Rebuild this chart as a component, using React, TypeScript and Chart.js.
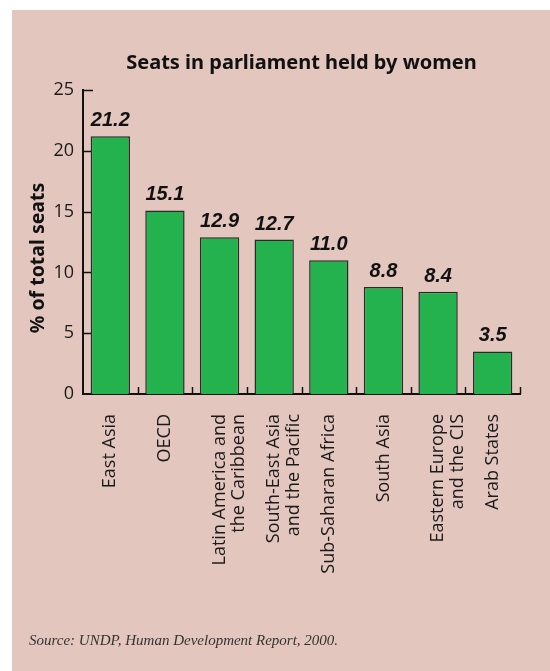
import React, { useEffect, useRef } from 'react';
import { Chart, registerables } from 'chart.js';

Chart.register(...registerables);

const categories: string[][] = [
  ['East Asia'],
  ['OECD'],
  ['Latin America and', 'the Caribbean'],
  ['South-East Asia', 'and the Pacific'],
  ['Sub-Saharan Africa'],
  ['South Asia'],
  ['Eastern Europe', 'and the CIS'],
  ['Arab States'],
];
const seatsShare = [21.2, 15.1, 12.9, 12.7, 11.0, 8.8, 8.4, 3.5];
const yTickValues = [0, 5, 10, 15, 20, 25];
const chartTitle = 'Seats in parliament held by women';
const yAxisTitle = '% of total seats';
const sourceNote = 'Source: UNDP, Human Development Report, 2000.';

const W = 550;
const H = 671;

const decor = {
  id: 'decor',
  beforeDraw(chart: any) {
    const { ctx } = chart;
    ctx.save();
    ctx.fillStyle = '#ffffff';
    ctx.fillRect(0, 0, W, H);
    ctx.fillStyle = '#e3c6bd';
    ctx.fillRect(12, 10, W - 12, H - 10);
    ctx.restore();
  },
  afterDatasetsDraw(chart: any) {
    const { ctx, chartArea, scales } = chart;
    const x = scales.x;
    const y = scales.y;
    ctx.save();
    ctx.strokeStyle = '#111';
    ctx.lineWidth = 1.5;
    // inward y ticks
    yTickValues.forEach((v) => {
      if (v === 0) return;
      const py = Math.round(y.getPixelForValue(v)) + 0.5;
      ctx.beginPath();
      ctx.moveTo(chartArea.left, py);
      ctx.lineTo(chartArea.left + (v === 25 ? 10 : 8), py);
      ctx.stroke();
    });
    // category boundary ticks on x axis
    const step = x.getPixelForValue(1) - x.getPixelForValue(0);
    for (let i = 0; i < categories.length; i++) {
      const px = Math.round(x.getPixelForValue(i) + step / 2) + 0.5;
      ctx.beginPath();
      ctx.moveTo(px, chartArea.bottom);
      ctx.lineTo(px, chartArea.bottom - 7);
      ctx.stroke();
    }
    // value labels
    const meta = chart.getDatasetMeta(0);
    ctx.fillStyle = '#111';
    ctx.font = 'italic bold 20px "Liberation Sans"';
    ctx.textAlign = 'center';
    ctx.textBaseline = 'alphabetic';
    meta.data.forEach((bar: any, i: number) => {
      ctx.fillText(seatsShare[i].toFixed(1), bar.x, bar.y - 10);
    });
    // title
    ctx.font = 'bold 20px "Noto Sans"';
    ctx.textBaseline = 'middle';
    ctx.fillText(chartTitle, (chartArea.left + chartArea.right) / 2, 63);
    // y axis title
    ctx.save();
    ctx.translate(38, 258);
    ctx.rotate(-Math.PI / 2);
    ctx.font = 'bold 19.5px "Noto Sans"';
    ctx.fillText(yAxisTitle, 0, 0);
    ctx.restore();
    // source
    ctx.font = 'italic 15px "Liberation Serif"';
    ctx.textAlign = 'left';
    ctx.textBaseline = 'alphabetic';
    ctx.fillStyle = '#333';
    ctx.fillText(sourceNote, 29, 645);
    ctx.restore();
  },
};

export default function App() {
  const ref = useRef<HTMLCanvasElement | null>(null);
  useEffect(() => {
    if (!ref.current) return;
    const chart = new Chart(ref.current, {
      type: 'bar',
      data: {
        labels: categories,
        datasets: [
          {
            data: seatsShare,
            backgroundColor: '#23b24d',
            borderColor: '#2a2a2a',
            borderWidth: 1.5,
            categoryPercentage: 0.72,
            barPercentage: 1,
          },
        ],
      },
      options: {
        responsive: false,
        animation: false,
        layout: { padding: { top: 90, right: 30, left: 0, bottom: 0 } },
        plugins: { legend: { display: false }, tooltip: { enabled: false }, title: { display: false } },
        scales: {
          x: {
            offset: true,
            grid: { display: false, drawTicks: false },
            border: { display: true, color: '#111', width: 2 },
            ticks: {
              autoSkip: false,
              maxRotation: 90,
              minRotation: 90,
              padding: 20,
              color: '#1a1a1a',
              font: { family: '"Open Sans"', size: 18, lineHeight: 1.1 },
            },
            afterFit: (s: any) => {
              s.height = H - 394;
            },
          },
          y: {
            min: 0,
            max: 25,
            grid: { display: false, drawTicks: false },
            border: { display: true, color: '#111', width: 2 },
            ticks: {
              stepSize: 5,
              padding: 9,
              color: '#1a1a1a',
              font: { family: '"Open Sans"', size: 18 },
            },
            afterFit: (s: any) => {
              s.width = 83;
            },
          },
        },
      },
      plugins: [decor],
    });
    return () => chart.destroy();
  }, []);
  return (
    <div style={{ position: 'absolute', left: 0, top: 0, width: W, height: H }}>
      <canvas ref={ref} width={W} height={H} style={{ width: W, height: H, display: 'block' }} />
    </div>
  );
}
